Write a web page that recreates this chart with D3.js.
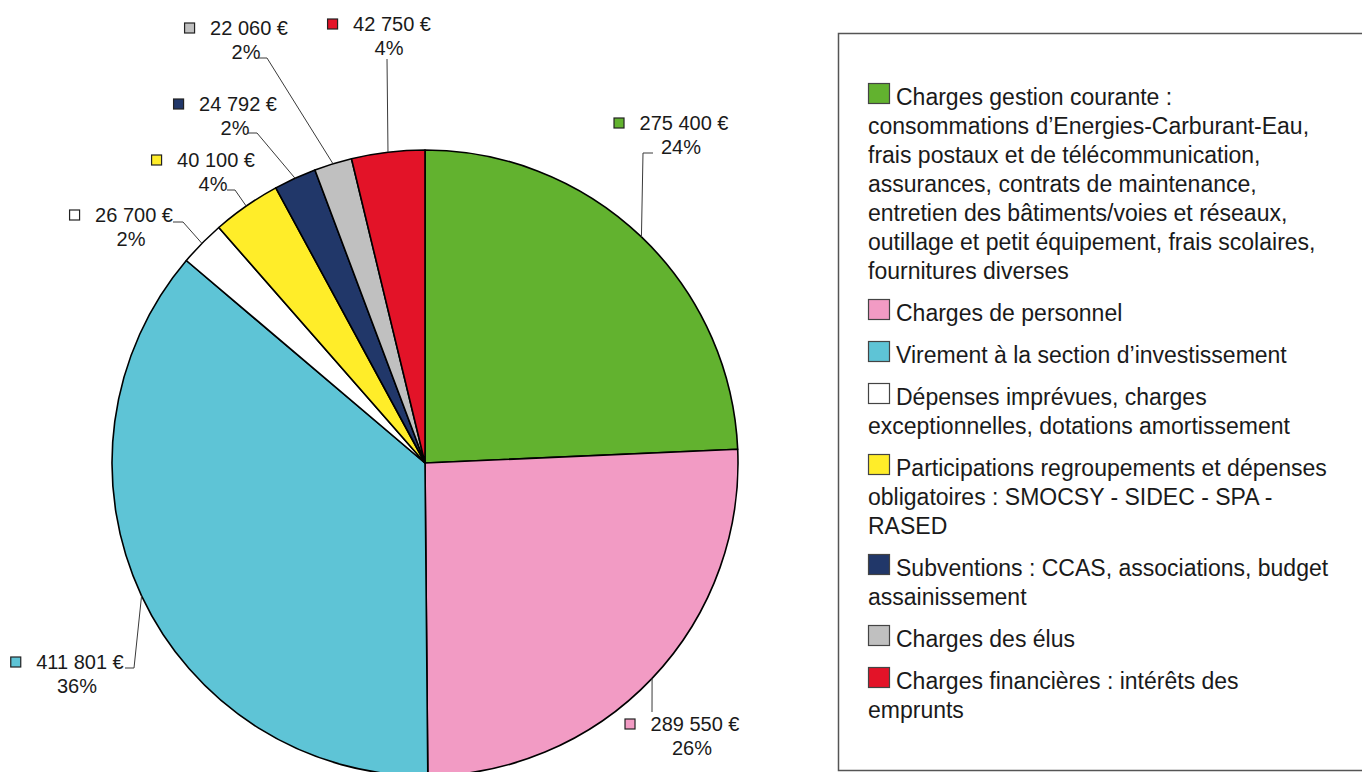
<!DOCTYPE html>
<html>
<head>
<meta charset="utf-8">
<script src="https://cdn.jsdelivr.net/npm/d3@7"></script>
<style>
  body { margin: 0; background: #fff; }
  text { font-family: "Liberation Sans", Arial, sans-serif; fill: #1a1a1a; }
</style>
</head>
<body>
<script>

const w = 1362;
const h = 772;

// categories (legend lines as shown), values and colours
const categories = [
    ["Charges gestion courante :", "consommations d\u2019Energies-Carburant-Eau,", "frais postaux et de télécommunication,", "assurances, contrats de maintenance,", "entretien des bâtiments/voies et réseaux,", "outillage et petit équipement, frais scolaires,", "fournitures diverses"],
    ["Charges de personnel"],
    ["Virement à la section d\u2019investissement"],
    ["Dépenses imprévues, charges", "exceptionnelles, dotations amortissement"],
    ["Participations regroupements et dépenses", "obligatoires : SMOCSY - SIDEC - SPA -", "RASED"],
    ["Subventions : CCAS, associations, budget", "assainissement"],
    ["Charges des élus"],
    ["Charges financières : intérêts des", "emprunts"]
];
const values = [275400, 289550, 411801, 26700, 40100, 24792, 22060, 42750];
const colors = ["#62b22f", "#f29bc4", "#5ec4d6", "#ffffff", "#ffed29", "#213769", "#c0c0c0", "#e31328"];

// where the data labels sit (centre of the value text) and their leader knee / end
const labelAt   = [[684, 123], [695, 724], [80, 662], [134, 215], [216, 160], [238, 104], [249, 28], [392, 24]];
const leaderKnee = [[643, 153], [652, 712], [134, 668], [183, 222], [235, 190], [257, 133], [267, 58], [387, 59]];
const leaderEnd  = [[653, 153], [652, 712], [125, 668], [173, 222], [227, 190], [248, 133], [258, 58], [387, 59]];

const cx = 425, cy = 463, r = 313;

const fr = d3.formatLocale({ decimal: ",", thousands: " ", grouping: [3], currency: ["", " €"] });
const fmt = fr.format(",d");

let svg = d3.select("body")
    .append("svg")
    .attr("width", w)
    .attr("height", h)

const total = d3.sum(values);
const data = values.map((v, i) => ({ value: v, color: colors[i], cat: categories[i], i: i }));

const pie = d3.pie().sort(null).value(d => d.value);
const arcs = pie(data);
const arc = d3.arc().innerRadius(0).outerRadius(r);
const edge = d3.arc().innerRadius(r).outerRadius(r);

let g = svg.append("g").attr("transform", `translate(${cx},${cy})`);

g.selectAll("path")
    .data(arcs)
    .join("path")
    .attr("d", arc)
    .attr("fill", d => d.data.color)
    .attr("stroke", "#000")
    .attr("stroke-width", 1.6)
    .attr("stroke-linejoin", "round");

// leader lines
svg.append("g")
    .selectAll("polyline")
    .data(arcs)
    .join("polyline")
    .attr("points", d => {
        const p = edge.centroid(d);
        const k = leaderKnee[d.index], e = leaderEnd[d.index];
        return [[p[0] + cx, p[1] + cy], k, e].map(q => q.join(",")).join(" ");
    })
    .attr("fill", "none")
    .attr("stroke", "#3a3a3a")
    .attr("stroke-width", 1);

// data labels
let lab = svg.append("g")
    .selectAll("g")
    .data(arcs)
    .join("g")
    .attr("transform", d => `translate(${labelAt[d.index][0]},${labelAt[d.index][1]})`);

lab.append("text")
    .attr("class", "val")
    .attr("text-anchor", "middle")
    .attr("dy", "0.36em")
    .style("font-size", "20px")
    .text(d => fmt(d.data.value) + " €");

lab.append("text")
    .attr("text-anchor", "middle")
    .attr("x", -3)
    .attr("y", 24)
    .attr("dy", "0.36em")
    .style("font-size", "20px")
    .text(d => Math.round(d.data.value / total * 100) + "%");

lab.each(function (d) {
    const t = d3.select(this).select("text.val").node();
    const tw = t.getComputedTextLength();
    d3.select(this).append("rect")
        .attr("x", -tw / 2 - 25.5)
        .attr("y", -5)
        .attr("width", 10)
        .attr("height", 10)
        .attr("fill", d.data.color)
        .attr("stroke", "#222")
        .attr("stroke-width", 1.2);
});

// legend
svg.append("rect")
    .attr("x", 838.5)
    .attr("y", 33.5)
    .attr("width", 600)
    .attr("height", 737)
    .attr("fill", "none")
    .attr("stroke", "#555")
    .attr("stroke-width", 1.5);

const lineH = 29, itemGap = 42;
let base = 105;
data.forEach(function (d) {
    const lg = svg.append("g");
    lg.append("rect")
        .attr("x", 868.5)
        .attr("y", base - 21.5)
        .attr("width", 21)
        .attr("height", 20)
        .attr("fill", d.color)
        .attr("stroke", "#444")
        .attr("stroke-width", 1.2);
    d.cat.forEach(function (line, j) {
        lg.append("text")
            .attr("x", j == 0 ? 896 : 868)
            .attr("y", base + j * lineH)
            .style("font-size", "23px")
            .text(line);
    });
    base += (d.cat.length - 1) * lineH + itemGap;
});

</script>
</body>
</html>
